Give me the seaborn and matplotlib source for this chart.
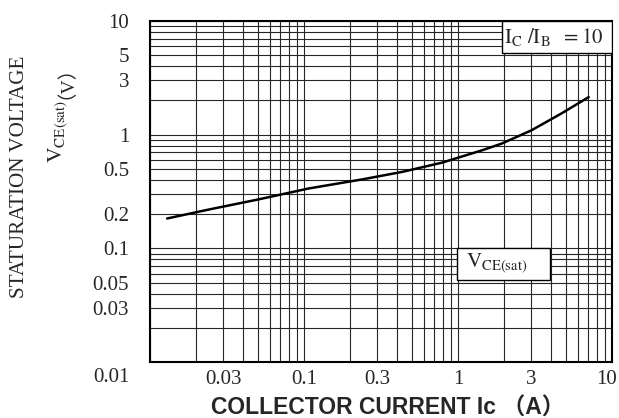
import numpy as np
import pandas as pd
import seaborn as sns
import matplotlib.pyplot as plt
from matplotlib.ticker import LogLocator, FixedLocator, FixedFormatter, NullFormatter
from matplotlib.patches import Rectangle
from matplotlib.transforms import ScaledTranslation

# curve
ic = [0.0129, 0.0243, 0.051, 0.107, 0.241, 0.436, 0.79, 1.43, 1.92, 2.99, 4.67, 7.06]
vce = [0.183, 0.22, 0.27, 0.336, 0.405, 0.471, 0.568, 0.728, 0.834, 1.09, 1.53, 2.14]

x_ticks = [0.03, 0.1, 0.3, 1, 3, 10]
x_labels = ['0.03', '0.1', '0.3', '1', '3', '10']
y_ticks = [0.01, 0.03, 0.05, 0.1, 0.2, 0.5, 1, 3, 5, 10]
y_labels = ['0.01', '0.03', '0.05', '0.1', '0.2', '0.5', '1', '3', '5', '10']

sns.set_style('white')
plt.rcParams['font.family'] = ['Liberation Serif', 'Noto Sans CJK SC']
plt.rcParams['mathtext.fontset'] = 'stix'

fig = plt.figure(figsize=(6.19, 4.18), dpi=100)
ax = fig.add_axes([150 / 619, 56 / 418, 462 / 619, 341 / 418])

df = pd.DataFrame({'ic': ic, 'vce': vce})
sns.lineplot(data=df, x='ic', y='vce', ax=ax, color='black', lw=1.8, zorder=5)

ax.set_xscale('log')
ax.set_yscale('log')
ax.set_xlim(0.01, 10)
ax.set_ylim(0.01, 10)

for axis, ticks, labels in [(ax.xaxis, x_ticks, x_labels), (ax.yaxis, y_ticks, y_labels)]:
    axis.set_major_locator(FixedLocator(ticks))
    axis.set_major_formatter(FixedFormatter(labels))
    axis.set_minor_locator(LogLocator(base=10, subs=np.arange(1, 10)))
    axis.set_minor_formatter(NullFormatter())
    axis.remove_overlapping_locs = False

ax.set_axisbelow(True)
ax.grid(False, which='major')
ax.grid(True, which='minor', color='0.15', lw=0.8)
ax.tick_params(which='both', length=0, labelsize=15)
ax.tick_params(axis='x', pad=6)
ax.tick_params(axis='y', pad=15)
ax.set_xlabel('')
ax.set_ylabel('')
for s in ax.spines.values():
    s.set_color('black')
    s.set_linewidth(1.5)

# the 0.01 label sits lower than the axis in the original, the 10 sits a bit in
lab = ax.get_yticklabels()[0]
lab.set_transform(lab.get_transform() + ScaledTranslation(0, -13 / 100, fig.dpi_scale_trans))
lab = ax.get_xticklabels()[-1]
lab.set_transform(lab.get_transform() + ScaledTranslation(-5 / 100, 0, fig.dpi_scale_trans))

# annotation boxes
ax.add_patch(Rectangle((0.762, 0.906), 0.238, 0.094, transform=ax.transAxes,
                       fc='white', ec='black', lw=1, zorder=3))
ax.text(0.874, 0.952, r'$\mathrm{I_C\ /I_B\ \ =10}$', transform=ax.transAxes,
        ha='center', va='center', fontsize=15, zorder=6)
ax.add_patch(Rectangle((0.665, 0.240), 0.201, 0.094, transform=ax.transAxes,
                       fc='white', ec='black', lw=1, zorder=3))
ax.text(0.751, 0.290, r'$\mathrm{V_{CE(sat)}}$', transform=ax.transAxes,
        ha='center', va='center', fontsize=15, zorder=6)

# axis titles
fig.text(20 / 619, 1 - 177 / 418, 'STATURATION VOLTAGE', rotation=90,
         ha='center', va='center', fontsize=15.2)
t1 = fig.text(62 / 619, 1 - 163 / 418, r'$\mathrm{V_{CE(sat)}}$', rotation=90,
              rotation_mode='anchor', ha='left', va='baseline', fontsize=15.5)
fig.canvas.draw()
bb = t1.get_window_extent()
fig.text(62 / 619, (bb.y1 + 1) / fig.bbox.height, '（V）', rotation=90,
         rotation_mode='anchor', ha='left', va='baseline', fontsize=14)

fig.text(388 / 619, 1 - 408 / 418, 'COLLECTOR CURRENT Ic （A）',
         family=['Liberation Sans', 'Noto Sans CJK SC'], weight='bold',
         fontsize=16.5, ha='center', va='center')

fig.savefig('out.png', dpi=100)
